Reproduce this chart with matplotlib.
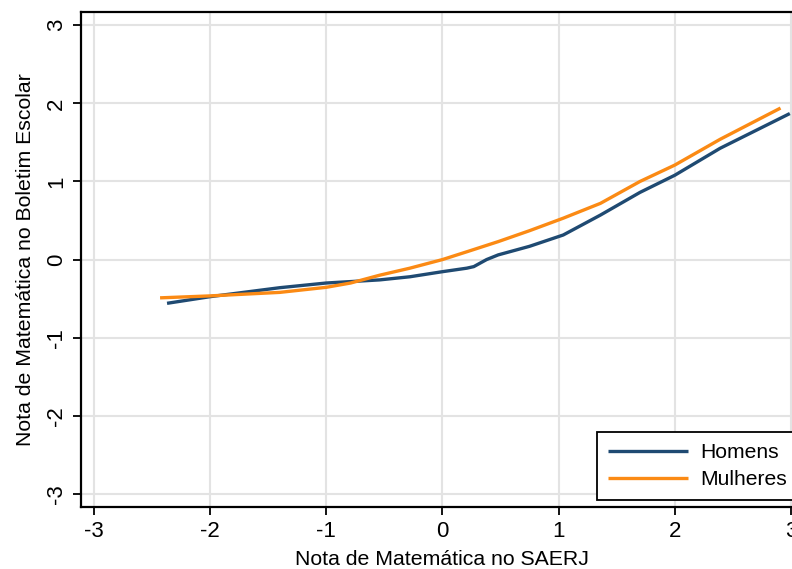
import matplotlib
matplotlib.use("Agg")
import matplotlib.pyplot as plt

# Data
homens_x = [-2.37, -2.0, -1.4, -1.0, -0.54, -0.28, 0.0, 0.21, 0.27, 0.38, 0.48, 0.75, 1.04, 1.36, 1.70, 2.0, 2.39, 2.99]
homens_y = [-0.56, -0.475, -0.36, -0.30, -0.26, -0.22, -0.155, -0.11, -0.09, 0.0, 0.06, 0.17, 0.315, 0.57, 0.86, 1.08, 1.425, 1.87]

mulheres_x = [-2.43, -2.0, -1.4, -1.0, -0.79, -0.54, -0.28, 0.0, 0.21, 0.48, 0.75, 1.04, 1.36, 1.70, 2.0, 2.39, 2.91]
mulheres_y = [-0.49, -0.465, -0.42, -0.355, -0.30, -0.20, -0.11, 0.0, 0.10, 0.23, 0.37, 0.53, 0.72, 1.0, 1.21, 1.54, 1.94]

ticks = [-3, -2, -1, 0, 1, 2, 3]
tick_labels = ["-3", "-2", "-1", "0", "1", "2", "3"]

plt.rcParams['font.family'] = ['Liberation Sans', 'DejaVu Sans']

fig = plt.figure(figsize=(7.92, 5.69), dpi=100)
ax = fig.add_axes([0.1019, 0.1095, 0.9134, 0.8694])

navy = '#1f4a72'
orange = '#fb8a14'
ax.plot(homens_x, homens_y, color=navy, lw=2.4, label='Homens', solid_capstyle='butt', zorder=3)
ax.plot(mulheres_x, mulheres_y, color=orange, lw=2.4, label='Mulheres', solid_capstyle='butt', zorder=3)

ax.set_xlim(-3.113, 3.113)
ax.set_ylim(-3.164, 3.170)
ax.set_xticks(ticks)
ax.set_xticklabels(tick_labels)
ax.set_yticks(ticks)
ax.set_yticklabels(tick_labels, rotation=90, va='center')
ax.grid(True, color='#e3e3e3', lw=1.5, zorder=0)
ax.set_axisbelow(True)
ax.tick_params(axis='both', direction='out', length=6, width=1.3, labelsize=16, colors='black')
ax.tick_params(axis='x', pad=4)
ax.tick_params(axis='y', pad=4)
for s in ax.spines.values():
    s.set_linewidth(1.6)
    s.set_color('black')

ax.set_xlabel('Nota de Matemática no SAERJ', fontsize=15.3, labelpad=6)
ax.set_ylabel('Nota de Matemática no Boletim Escolar', fontsize=15.3, labelpad=8)

leg = ax.legend(loc='lower left', bbox_to_anchor=(597.3 / 792, 1 - 500 / 569),
                bbox_transform=fig.transFigure, fontsize=15.2, frameon=True,
                fancybox=False, handlelength=3.8, handletextpad=0.6,
                labelspacing=0.4, borderpad=0.5, borderaxespad=0)
leg.get_frame().set_edgecolor('black')
leg.get_frame().set_linewidth(1.3)
leg.get_frame().set_alpha(1)

fig.savefig('out.png', dpi=100)
